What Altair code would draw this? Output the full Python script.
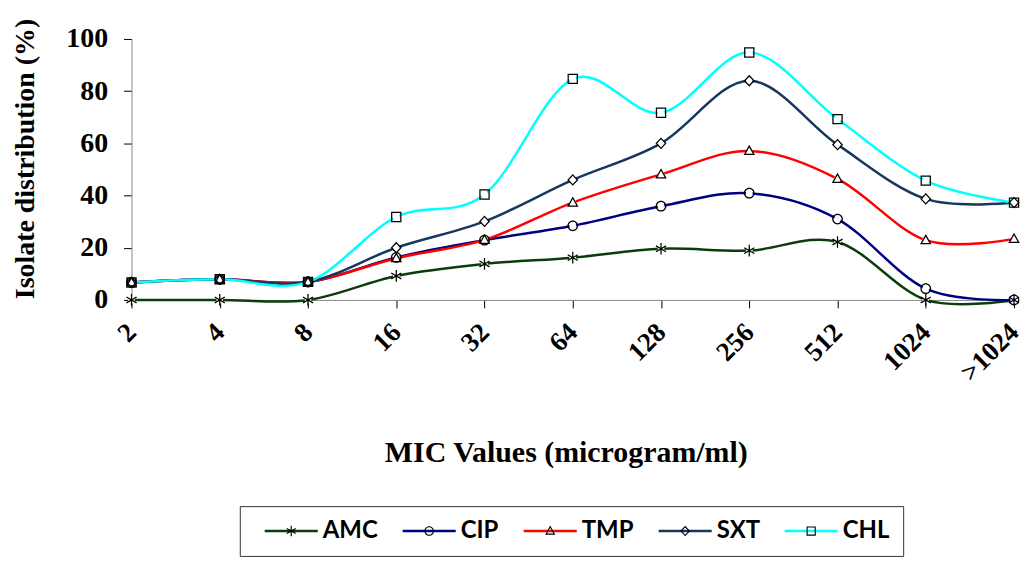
import altair as alt
import pandas as pd

mic = ["2", "4", "8", "16", "32", "64", "128", "256", "512", "1024", ">1024"]
series_names = ["AMC", "CIP", "TMP", "SXT", "CHL"]
amc = [0, 0, 0, 9.2, 13.8, 16.2, 19.6, 18.9, 22.2, 0, 0]
cip = [6.7, 7.9, 6.9, 16.3, 22.9, 28.4, 35.9, 40.9, 31.0, 4.3, 0]
tmp = [6.7, 7.9, 6.9, 16.0, 23.0, 37.3, 48.1, 57.1, 46.4, 22.9, 23.4]
sxt = [6.7, 7.9, 6.9, 20.0, 30.1, 46.0, 60.0, 84.0, 59.5, 38.7, 37.3]
chl = [6.7, 7.9, 6.9, 31.8, 40.4, 84.7, 71.7, 94.8, 69.3, 45.7, 37.3]
y_ticks = [0, 20, 40, 60, 80, 100]

colors = ["#0b3d0b", "#000080", "#ff0000", "#17375e", "#00ffff"]
# outline markers drawn as filled rings (outer and inner contour wound oppositely)
marker_paths = [
    "M-0.07,-0.65L0.07,-0.65L0.07,0.65L-0.07,0.65Z"
    "M-0.598,-0.264L-0.528,-0.386L0.598,0.264L0.528,0.386Z"
    "M-0.528,0.386L-0.598,0.264L0.528,-0.386L0.598,-0.264Z",
    "M0.6,0A0.6,0.6,0,1,1,-0.6,0A0.6,0.6,0,1,1,0.6,0Z"
    "M0.46,0A0.46,0.46,0,1,0,-0.46,0A0.46,0.46,0,1,0,0.46,0Z",
    "M0,-0.68L0.64,0.46L-0.64,0.46Z"
    "M0,-0.395L-0.401,0.32L0.401,0.32Z",
    "M0,-0.66L0.62,0L0,0.66L-0.62,0Z"
    "M0,-0.455L-0.428,0L0,0.455L0.428,0Z",
    "M-0.58,-0.58L0.58,-0.58L0.58,0.58L-0.58,0.58Z"
    "M-0.44,-0.44L-0.44,0.44L0.44,0.44L0.44,-0.44Z",
]
legend_line_path = "M-3.33,0L3.33,0"

rows = []
for name, vals in zip(series_names, [amc, cip, tmp, sxt, chl]):
    for m, v in zip(mic, vals):
        rows.append({"MIC": m, "Series": name, "Marker": name, "Value": v})
df = pd.DataFrame(rows)

serif = "Liberation Serif"
leg_common = dict(
    title=None, orient="none", legendX=108.7, legendY=469,
    direction="horizontal", columns=5, symbolSize=256,
    symbolOffset=26.65, labelOffset=19.65,
    labelFont="Lato", labelFontWeight="bold", labelFontSize=24,
    labelColor="black", columnPadding=12.5, padding=13,
)

x_enc = alt.X(
    "MIC:N",
    sort=mic,
    scale=alt.Scale(type="point", padding=0),
    title="MIC Values (microgram/ml)",
    axis=alt.Axis(
        labelAngle=-45, labelAlign="right", labelBaseline="middle",
        labelFont=serif, labelFontWeight="bold", labelFontSize=27,
        labelColor="black", tickSize=8, tickColor="black", domainColor="#888888",
        labelPadding=20, titleFont=serif, titleFontSize=30, titleFontWeight="bold",
        titleColor="black", titleBaseline="alphabetic", titleX=436, titleY=162,
        grid=False,
    ),
)
y_enc = alt.Y(
    "Value:Q",
    scale=alt.Scale(domain=[0, 100]),
    title="Isolate distribution (%)",
    axis=alt.Axis(
        values=y_ticks, labelFont=serif, labelFontWeight="bold", labelFontSize=28,
        labelColor="black", tickSize=8, tickColor="black", domainColor="#888888",
        labelPadding=16, titleFont=serif, titleFontSize=28, titleFontWeight="bold",
        titleColor="black", titleBaseline="alphabetic", titleX=-98, titleY=120,
        grid=False,
    ),
)

lines = alt.Chart(df).mark_line(interpolate="cardinal", strokeWidth=2.5).encode(
    x=x_enc,
    y=y_enc,
    color=alt.Color(
        "Series:N",
        scale=alt.Scale(domain=series_names, range=colors),
        legend=alt.Legend(
            symbolType=legend_line_path, symbolStrokeWidth=2.5,
            strokeColor="#333333", **leg_common,
        ),
    ),
)

underlay = alt.Chart(df).mark_point(
    shape="circle", filled=True, fill="white", size=45, opacity=1, strokeWidth=0
).encode(x=x_enc, y=y_enc)

points = alt.Chart(df).mark_point(
    filled=True, fill="black", size=324, opacity=1, strokeWidth=0
).encode(
    x=x_enc,
    y=y_enc,
    shape=alt.Shape(
        "Marker:N",
        sort=None,
        scale=alt.Scale(range=marker_paths),
        legend=alt.Legend(
            symbolStrokeWidth=0, symbolFillColor="black", symbolOpacity=1,
            labelOpacity=0, **leg_common,
        ),
    ),
)

chart = alt.layer(lines, underlay, points).properties(
    width=886,
    height=262,
    padding={"left": 124, "top": 30, "right": 7, "bottom": 257},
    autosize=alt.AutoSizeParams(type="none"),
).configure_view(stroke=None)

chart.save("out.html", embed_options={"renderer": "svg", "actions": False})
